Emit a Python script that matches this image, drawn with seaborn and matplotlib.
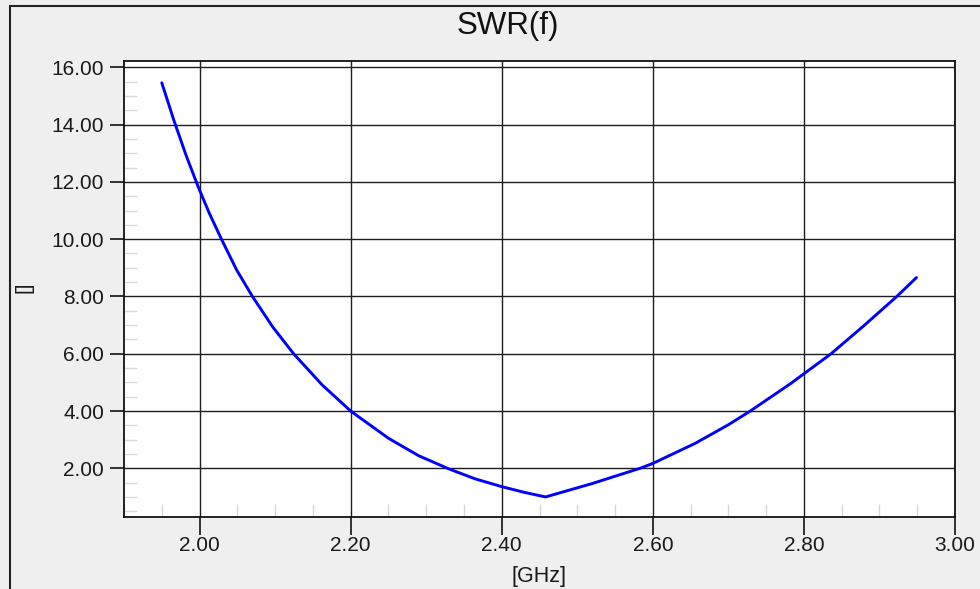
import matplotlib
matplotlib.use('Agg')
import matplotlib.pyplot as plt
import pandas as pd
import seaborn as sns
from matplotlib.ticker import FixedLocator, MultipleLocator, FormatStrFormatter
from matplotlib.lines import Line2D

# ---- data ----
freq_ghz = [1.950, 1.966, 1.982, 1.998, 2.013, 2.029, 2.049, 2.070, 2.097,
            2.1245, 2.162, 2.200, 2.250, 2.290, 2.330, 2.365, 2.400, 2.430,
            2.458, 2.520, 2.583, 2.600, 2.656, 2.700, 2.729, 2.782, 2.836,
            2.879, 2.923, 2.949]
swr = [15.46, 14.15, 12.94, 11.84, 10.90, 10.00, 8.93, 8.00, 6.93,
       6.00, 4.92, 4.00, 3.05, 2.44, 1.98, 1.63, 1.36, 1.16,
       1.00, 1.47, 2.00, 2.17, 2.87, 3.52, 4.00, 4.95, 6.00,
       6.97, 8.00, 8.66]
x_ticks = [2.00, 2.20, 2.40, 2.60, 2.80, 3.00]
y_ticks = [2.00, 4.00, 6.00, 8.00, 10.00, 12.00, 14.00, 16.00]
title = "SWR(f)"
x_label = "[GHz]"
y_label = "[]"

sns.set_theme(style='white')
plt.rcParams['font.family'] = ['Liberation Sans', 'DejaVu Sans']

W, H = 980, 589
fig = plt.figure(figsize=(W / 100, H / 100), dpi=100, facecolor='#efefef')
L, R, T, B = 124, 955, 61, 517
ax = fig.add_axes([L / W, 1 - B / H, (R - L) / W, (B - T) / H])
ax.set_facecolor('white')

df = pd.DataFrame({'f': freq_ghz, 'swr': swr})
sns.lineplot(data=df, x='f', y='swr', ax=ax, color='#0000ff', linewidth=2.1)

ax.set_xlim(1.90, 3.00)
ax.set_ylim(0.30, 16.22)
ax.xaxis.set_major_locator(FixedLocator(x_ticks))
ax.yaxis.set_major_locator(FixedLocator(y_ticks))
ax.xaxis.set_minor_locator(MultipleLocator(0.05))
ax.yaxis.set_minor_locator(MultipleLocator(0.5))
ax.xaxis.set_major_formatter(FormatStrFormatter('%.2f'))
ax.yaxis.set_major_formatter(FormatStrFormatter('%.2f'))

ax.grid(True, which='major', color='#1e1e1e', linewidth=1.0)
ax.set_axisbelow(True)
for s in ax.spines.values():
    s.set_color('#111111')
    s.set_linewidth(1.3)

ax.tick_params(axis='y', which='major', direction='out', length=10, width=1.2,
               color='#111111', pad=4.3, labelsize=15, labelcolor='#1a1a1a', left=True)
ax.tick_params(axis='x', which='major', direction='out', length=13, width=1.2,
               color='#111111', pad=1, labelsize=15, labelcolor='#1a1a1a', bottom=True)
ax.tick_params(axis='both', which='minor', direction='in', length=9.5, width=1.0,
               color='#d9d9d9', left=True, bottom=True)

ax.set_xlabel('')
ax.set_ylabel('')
fig.text(539 / W, 1 - 581.7 / H, x_label, fontsize=15.5, ha='center', va='baseline', color='#1a1a1a')
fig.text(24 / W, 1 - 287 / H, y_label, fontsize=15, rotation=90, ha='center', va='center', color='#1a1a1a')
fig.text(508 / W, 1 - 34.3 / H, title, fontsize=22.5, ha='center', va='baseline', color='#111111')

# window frame
fig.add_artist(Line2D([9.5 / W, 9.5 / W], [0, 1 - 5.5 / H], transform=fig.transFigure,
                      color='#222222', linewidth=1.5))
fig.add_artist(Line2D([9.5 / W, 1], [1 - 5.5 / H, 1 - 5.5 / H], transform=fig.transFigure,
                      color='#222222', linewidth=1.5))

fig.savefig('out.png', dpi=100, facecolor=fig.get_facecolor())
